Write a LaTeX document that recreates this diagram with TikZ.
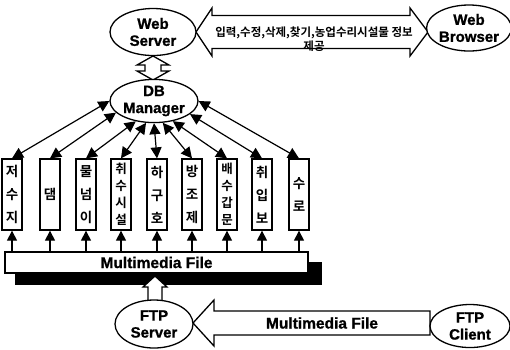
\documentclass[tikz,border=0pt]{standalone}
\usepackage{fontspec}
\setmainfont{Liberation Sans}[BoldFeatures={FakeBold=1}]
\newfontfamily\kr{Noto Sans CJK KR Bold}
\usetikzlibrary{shapes.geometric,arrows.meta}
\begin{document}
\begin{tikzpicture}[x=1pt,y=-1pt,
  ell/.style={ellipse,draw,line width=1.3pt,fill=white,inner sep=0pt,align=center,font=\bfseries\fontsize{15}{17}\selectfont},
  kbox/.style={draw,line width=1.3pt,fill=white,minimum width=20pt,minimum height=71pt,inner sep=0pt,align=center,font=\kr\fontsize{13.5}{23}\selectfont},
  kbox4/.style={kbox,font=\kr\fontsize{12.5}{17}\selectfont},
  dbarr/.style={line width=1.2pt,{Triangle[length=11pt,width=11pt]}-{Triangle[length=11pt,width=11pt]}},
  uparr/.style={line width=1.2pt,-{Triangle[length=10pt,width=10pt]}},
  blk/.style={draw,line width=1.3pt,fill=white,line join=miter},
  lbl/.style={font=\bfseries\fontsize{15.5}{17}\selectfont}
]
\useasboundingbox (0,0) rectangle (510,349);

% top double block arrow
\draw[blk] (196,32) -- (212,8) -- (212,15.5) -- (410,15.5) -- (410,8) -- (428,32)
  -- (410,56) -- (410,48.5) -- (212,48.5) -- (212,56) -- cycle;
\node[align=center,font=\kr\fontsize{11.5}{14}\selectfont] (info) at (314,39)
  {입력,수정,삭제,찾기,농업수리시설물 정보\\제공};

% small double block arrow
\draw[blk] (153,56) -- (169,65) -- (161,65) -- (161,71) -- (169,71) -- (153,80)
  -- (137,71) -- (145,71) -- (145,65) -- (137,65) -- cycle;

\node[ell,minimum width=86pt,minimum height=47pt] (ws) at (153,32) {Web\\Server};
\node[ell,minimum width=82pt,minimum height=46pt] (wb) at (469,28) {Web\\Browser};
\node[ell,minimum width=88pt,minimum height=43pt] (db) at (154,101) {DB\\Manager};

% facility boxes
\node[kbox] (b1) at (12,194.5) {저\\수\\지};
\node[kbox] (b2) at (50,194.5) {댐};
\node[kbox] (b3) at (86,194.5) {물\\넘\\이};
\node[kbox4] (b4) at (121,194.5) {취\\수\\시\\설};
\node[kbox] (b5) at (157,194.5) {하\\구\\호};
\node[kbox] (b6) at (192,194.5) {방\\조\\제};
\node[kbox4] (b7) at (227,194.5) {배\\수\\갑\\문};
\node[kbox] (b8) at (262,194.5) {취\\입\\보};
\node[kbox] (b9) at (299,194.5) {수\\로};

\draw[dbarr] (db.180) -- (b1.north);
\draw[dbarr] (db.197) -- (b2.north);
\draw[dbarr] (db.228) -- (b3.north);
\draw[dbarr] (db.250) -- (b4.north);
\draw[dbarr] (db.270) -- (b5.north);
\draw[dbarr] (db.292) -- (b6.north);
\draw[dbarr] (db.313) -- (b7.north);
\draw[dbarr] (db.340) -- (b8.north);
\draw[dbarr] (db.0) -- (b9.north);

% multimedia file box with shadow
\fill[black] (15,262) rectangle (322,285);
\node[draw,line width=1.3pt,fill=white,minimum width=303pt,minimum height=21pt,inner sep=0pt,lbl] (mm) at (156.5,262.5) {Multimedia File};

\foreach \b in {b1,b2,b3,b4,b5,b6,b7,b8,b9}
  \draw[uparr] (mm.north -| \b.south) -- (\b.south);

% up block arrow from FTP server
\draw[blk] (155,276) -- (167,287) -- (162,287) -- (162,303) -- (148,303) -- (148,287) -- (143,287) -- cycle;

% bottom left block arrow
\draw[blk] (193,323) -- (214,300) -- (214,311) -- (430,311) -- (430,335) -- (214,335) -- (214,346) -- cycle;
\node[lbl] (mmt) at (322,323) {Multimedia File};

\node[ell,minimum width=78pt,minimum height=48pt] (fs) at (154,324) {FTP\\Server};
\node[ell,minimum width=80pt,minimum height=43pt] (fc) at (470,326) {FTP\\Client};
\end{tikzpicture}
\end{document}
